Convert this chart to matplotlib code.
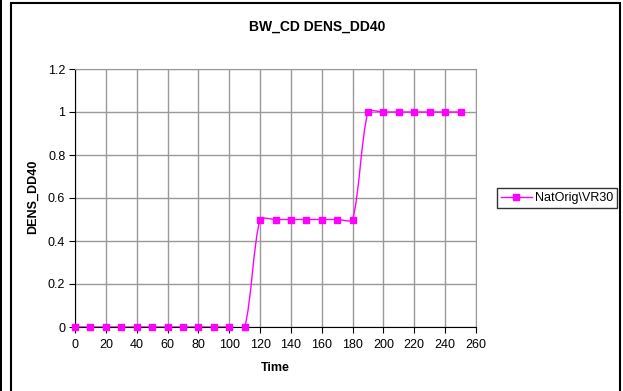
import matplotlib
matplotlib.use("Agg")
from matplotlib import pyplot as plt
from matplotlib.path import Path
from matplotlib.patches import PathPatch, Rectangle
from matplotlib.lines import Line2D
import numpy as np

# data
time = [0, 10, 20, 30, 40, 50, 60, 70, 80, 90, 100, 110,
        120, 130, 140, 150, 160, 170, 180,
        190, 200, 210, 220, 230, 240, 250]
dens = [0, 0, 0, 0, 0, 0, 0, 0, 0, 0, 0, 0,
        0.5, 0.5, 0.5, 0.5, 0.5, 0.5, 0.5,
        1, 1, 1, 1, 1, 1, 1]
series_name = "NatOrig\\VR30"
xticks = list(range(0, 261, 20))
yticks = [0, 0.2, 0.4, 0.6, 0.8, 1, 1.2]
ytick_labels = ["0", "0.2", "0.4", "0.6", "0.8", "1", "1.2"]

plt.rcParams['font.family'] = ['Liberation Sans', 'DejaVu Sans']
magenta = '#ff00ff'

fig = plt.figure(figsize=(6.23, 3.91), dpi=100)
ax = fig.add_axes([75/623, 1-327/391, 401/623, 258/391])
ax.set_xlim(0, 260)
ax.set_ylim(0, 1.2)

# smoothed line like excel: bezier segments worked out in pixel space
pts = ax.transData.transform(np.column_stack([time, dens]))
n = len(pts)
tang = []
for i in range(n):
    p0 = pts[max(i-1, 0)]
    p2 = pts[min(i+1, n-1)]
    d = p2 - p0
    tang.append(d / np.hypot(*d))
verts = [pts[0]]
codes = [Path.MOVETO]
for i in range(n-1):
    seg = np.hypot(*(pts[i+1]-pts[i]))
    c1 = pts[i] + tang[i]*seg/4.5
    c2 = pts[i+1] - tang[i+1]*seg/4.5
    verts += [c1, c2, pts[i+1]]
    codes += [Path.CURVE4]*3
verts = ax.transData.inverted().transform(np.array(verts))
ax.add_patch(PathPatch(Path(verts, codes), fill=False, edgecolor=magenta, lw=1.0, zorder=3))
ax.plot(time, dens, ls='none', marker='s', ms=4.5, color=magenta, zorder=4, clip_on=False)

ax.set_xticks(xticks)
ax.set_yticks(yticks)
ax.set_yticklabels(ytick_labels)
ax.grid(True, color='#999999', lw=1.0)
ax.set_axisbelow(True)
for s in ['top', 'right']:
    ax.spines[s].set_color('#999999')
for s in ['left', 'bottom']:
    ax.spines[s].set_color('black')
ax.tick_params(direction='out', length=4, width=0.8, labelsize=9, pad=3)
ax.tick_params(axis='x', pad=5)

fig.text(317/623, 1-27/391, "BW_CD DENS_DD40", ha='center', va='center',
         fontsize=10, fontweight='bold')
fig.text(275/623, 1-368/391, "Time", ha='center', va='center',
         fontsize=9, fontweight='bold')
fig.text(33/623, 1-197/391, "DENS_DD40", ha='center', va='center',
         fontsize=9, fontweight='bold', rotation=90)

handle = Line2D([], [], color=magenta, marker='s', ms=4.5, lw=1.0)
fig.legend([handle], [series_name], loc='center left',
           bbox_to_anchor=(497/623, 1-198/391), fontsize=9, frameon=True,
           fancybox=False, edgecolor='black', handlelength=2.5,
           borderpad=0.3, handletextpad=0.2, borderaxespad=0)

# outer chart frame
fig.patches.append(Rectangle((11/623, -0.05), 609/623, 1.05-3/391,
                             transform=fig.transFigure, fill=False,
                             edgecolor='black', lw=1.5))
fig.patches.append(Rectangle((0, 0), 2/623, 1, transform=fig.transFigure,
                             color='black', lw=0))

fig.savefig("out.png", dpi=100)
